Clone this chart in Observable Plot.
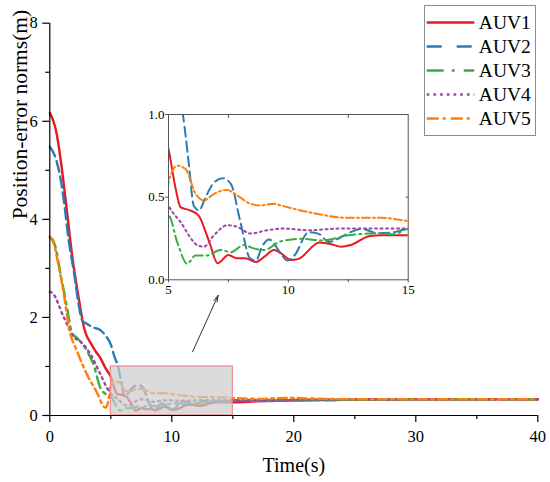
<!DOCTYPE html>
<html><head><meta charset="utf-8">
<script src="https://cdn.jsdelivr.net/npm/d3@7"></script>
<script src="https://cdn.jsdelivr.net/npm/@observablehq/plot@0.6"></script>
<style>
body{margin:0;background:#fff;}
#wrap{position:relative;width:550px;height:482px;font-family:"Liberation Serif","Times New Roman",serif;}
#inset,#legend{position:absolute;}
#inset{left:130px;top:100px;}
#legend{left:424px;top:5px;width:110px;height:129px;border:1px solid #8c8c8c;background:#fff;}
svg{display:block;overflow:visible;}
svg text{font-family:"Liberation Serif","Times New Roman",serif;}
</style></head><body>
<div id="wrap"><div id="main"></div><div id="inset"></div><div id="legend"></div></div>
<script>
const names = ["AUV1","AUV2","AUV3","AUV4","AUV5"];
const colors = ["#e8191f","#2b7bb5","#3aad3e","#9c48a0","#ff7f0e"];

const t1 = [0,0.3,0.5,0.9,1.3,1.85,2.4,2.8,3.0,3.35,3.75,4.15,4.6,5.0,5.3,5.5,5.9,6.25,6.7,7.05,7.5,7.85,8.2,8.65,9.0,9.4,9.7,10.1,10.4,11.3,11.8,12.2,12.6,13.4,13.9,15,17,20,25,30,35,40];
const v1 = [6.17,6.0,5.82,5.2,4.39,3.23,2.35,1.8,1.64,1.48,1.31,1.17,0.95,0.79,0.55,0.44,0.42,0.39,0.23,0.1,0.15,0.13,0.13,0.107,0.14,0.18,0.16,0.12,0.125,0.225,0.215,0.2,0.21,0.265,0.27,0.27,0.29,0.31,0.32,0.33,0.33,0.33];

const t2 = [0,0.45,0.9,1.15,1.55,2.0,2.4,2.65,3.05,3.5,4.1,4.6,5.0,5.3,5.6,5.85,6.05,6.27,6.55,6.85,7.25,7.6,8.0,8.4,8.65,8.9,9.2,9.65,9.95,10.25,10.85,11.27,11.69,12.1,12.6,13.08,13.7,14.4,15,17,20,25,30,35,40];
const v2 = [5.48,5.27,4.8,4.39,3.57,2.89,2.21,1.94,1.87,1.8,1.75,1.62,1.45,1.2,1.0,0.7,0.45,0.42,0.5,0.58,0.615,0.58,0.35,0.13,0.117,0.2,0.244,0.167,0.117,0.147,0.288,0.278,0.228,0.25,0.288,0.308,0.282,0.288,0.308,0.3,0.31,0.32,0.33,0.33,0.33];

const t3 = [0,0.2,0.47,0.88,1.3,1.85,2.25,3.06,3.6,4.15,4.57,4.84,5.0,5.36,5.78,6.13,6.6,7.17,7.6,8.14,8.56,8.98,9.67,10.5,11.48,12.45,13.84,14.4,15,17,20,25,30,35,40];
const v3 = [3.62,3.6,3.43,2.89,2.35,1.67,1.58,1.31,1.03,0.56,0.44,0.39,0.39,0.23,0.097,0.147,0.147,0.18,0.167,0.21,0.19,0.18,0.232,0.248,0.238,0.268,0.282,0.275,0.308,0.3,0.31,0.32,0.33,0.33,0.33];

const t4 = [0,0.2,1.15,1.97,2.5,3.33,4.15,4.7,5.0,5.5,6.2,6.47,6.9,7.45,7.87,8.42,9.12,9.81,10.8,12.2,13.6,15,20,25,30,35,40];
const v4 = [2.52,2.5,2.0,1.6,1.51,1.25,0.84,0.56,0.45,0.35,0.21,0.2,0.27,0.33,0.32,0.28,0.3,0.31,0.3,0.31,0.31,0.31,0.32,0.33,0.33,0.33,0.33];

const t5 = [0,0.33,0.74,1.15,1.56,2.24,3.06,3.88,4.43,4.6,4.84,5.0,5.36,5.71,6.13,6.47,6.9,7.45,7.87,8.42,8.84,9.4,9.67,11.06,12.45,13.84,15,17,19.5,21,25,30,35,40];
const v5 = [3.65,3.5,3.03,2.48,1.8,1.31,0.83,0.46,0.18,0.16,0.35,0.59,0.69,0.67,0.52,0.48,0.52,0.544,0.51,0.46,0.45,0.46,0.45,0.403,0.375,0.375,0.356,0.34,0.36,0.35,0.33,0.33,0.33,0.33];

const times = [t1,t2,t3,t4,t5];
const values = [v1,v2,v3,v4,v5];

const xTicksMain = [0,10,20,30,40], xMinorMain = [5,15,25,35];
const yTicksMain = [0,2,4,6,8], yMinorMain = [1,3,5,7];
const zoomX = [5,15], zoomY = [0,1];
const insetXTicks = [5,10,15], insetXMinor = [7.5,12.5], insetYTicks = [0,0.5,1];
const arrowFrom = [11.7,1.3], arrowTo = [13.8,2.45];

const dashMain = [null,"11,5","12,5,3,5","2,4","9,4,3,4"];
const dashInset = [null,"10,5","10,4,2,4","2,3.5","8,3,2,3"];
const dashLegend = [null,"15,15","17,8,3,9","2.7,4","12,4,3,5"];

const series = names.map((n,i)=> times[i].map((t,j)=>({name:n,t,v:values[i][j]})));

const font = "font-family:'Liberation Serif','Times New Roman',serif;color:#000;";

const main = Plot.plot({
  width:550, height:482,
  marginLeft:49.3, marginRight:12.7, marginTop:22.7, marginBottom:67,
  style: font + "font-size:16px;background:white;",
  x:{domain:[0,40]},
  y:{domain:[0,8]},
  marks:[
    ...series.map((s,i)=>Plot.line(s,{x:"t",y:"v",stroke:colors[i],strokeWidth:2.4,strokeDasharray:dashMain[i],curve:"monotone-x"})),
    Plot.rect([{x1:zoomX[0],x2:zoomX[1],y1:zoomY[0],y2:zoomY[1]}],{x1:"x1",x2:"x2",y1:"y1",y2:"y2",fill:"#cdcdcd",fillOpacity:0.72,stroke:"#f07884",strokeWidth:1}),
    Plot.arrow([{x1:arrowFrom[0],y1:arrowFrom[1],x2:arrowTo[0],y2:arrowTo[1]}],{x1:"x1",y1:"y1",x2:"x2",y2:"y2",stroke:"#333",strokeWidth:1,headLength:10,headAngle:30}),
    Plot.ruleX([0],{stroke:"#000",strokeWidth:1.2}),
    Plot.ruleY([0],{stroke:"#000",strokeWidth:1.2}),
    Plot.axisX({ticks:xTicksMain,tickSize:7,tickPadding:8,label:null,strokeWidth:1.2,fontSize:16.5}),
    Plot.axisX({ticks:xMinorMain,tickSize:4,tickFormat:()=>"",label:null,strokeWidth:1.2}),
    Plot.axisY({ticks:yTicksMain,tickSize:7,tickPadding:5,label:null,strokeWidth:1.2,fontSize:16.5}),
    Plot.axisY({ticks:yMinorMain,tickSize:4,tickFormat:()=>"",label:null,strokeWidth:1.2}),
    Plot.text(["Time(s)"],{frameAnchor:"bottom",dy:56,lineAnchor:"bottom",fontSize:20}),
    Plot.text(["Position-error norms(m)"],{frameAnchor:"left",dx:-23,rotate:-90,lineAnchor:"bottom",fontSize:21.5})
  ]
});
document.getElementById("main").appendChild(main);

const inset = Plot.plot({
  width:290, height:215,
  marginLeft:38, marginRight:12.3, marginTop:14, marginBottom:35.7,
  style: font + "font-size:13px;background:transparent;",
  x:{domain:zoomX},
  y:{domain:zoomY},
  marks:[
    ...series.map((s,i)=>Plot.line(s,{x:"t",y:"v",stroke:colors[i],strokeWidth:2,strokeDasharray:dashInset[i],curve:"monotone-x",clip:true})),
    Plot.frame({stroke:"#555"}),
    Plot.axisX({ticks:insetXTicks,tickSize:3,tickPadding:2,label:null,stroke:"#555",fontSize:13}),
    Plot.axisX({ticks:insetXMinor,tickSize:3,tickFormat:()=>"",label:null,stroke:"#555"}),
    Plot.axisX({anchor:"top",ticks:insetXMinor,tickSize:-3,tickFormat:()=>"",label:null,stroke:"#555"}),
    Plot.axisY({ticks:insetYTicks,tickSize:3,tickPadding:1,tickFormat:d3.format(".1f"),label:null,stroke:"#555",fontSize:13}),
    Plot.axisY({anchor:"right",ticks:[insetYTicks[1]],tickSize:-3,tickFormat:()=>"",label:null,stroke:"#555"})
  ]
});
document.getElementById("inset").appendChild(inset);

const legend = Plot.plot({
  width:110, height:129, margin:0,
  style: font + "font-size:20px;background:white;",
  x:{domain:[0,1], range:[1.7,49.3], axis:null},
  y:{type:"point", domain:names, range:[14.7,113.5], padding:0, axis:null},
  marks:[
    ...names.map((n,i)=>Plot.ruleY([n],{y:d=>d,x1:0,x2:1,stroke:colors[i],strokeWidth:2.7,strokeDasharray:dashLegend[i],strokeLinecap:"butt"})),
    Plot.text(names,{y:d=>d,x:1,dx:4,text:d=>d,textAnchor:"start",fontSize:19.5})
  ]
});
document.getElementById("legend").appendChild(legend);
</script>
</body></html>
